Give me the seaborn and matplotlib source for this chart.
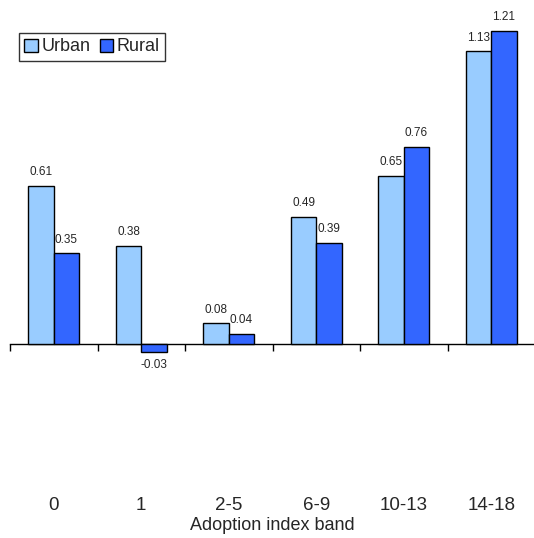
import matplotlib
matplotlib.use("Agg")
import matplotlib.pyplot as plt
import seaborn as sns
import pandas as pd
from matplotlib.patches import Patch

bands = ["0", "1", "2-5", "6-9", "10-13", "14-18"]
urban = [0.61, 0.38, 0.08, 0.49, 0.65, 1.13]
rural = [0.35, -0.03, 0.04, 0.39, 0.76, 1.21]
series = ["Urban", "Rural"]
colors = ["#99CCFF", "#3366FF"]

df = pd.DataFrame({
    "band": bands * 2,
    "value": urban + rural,
    "area": [series[0]] * len(bands) + [series[1]] * len(bands),
})

sns.set_style("white")
plt.rcParams["font.family"] = ["Liberation Sans", "DejaVu Sans"]

fig = plt.figure(figsize=(5.34, 5.38), dpi=100)
ax = fig.add_axes([10 / 534, 1 - 490 / 538, 525 / 534, 475 / 538])

sns.barplot(data=df, x="band", y="value", hue="area", order=bands,
            hue_order=series, palette=colors, edgecolor="black",
            linewidth=1.0, width=0.58, saturation=1, ax=ax, legend=False)

ymin, ymax = -0.564, 1.27
ax.set_ylim(ymin, ymax)
ax.set_xlim(-0.5, len(bands) - 0.5)

for cont in ax.containers:
    ax.bar_label(cont, fmt="%.2f", padding=5.5, fontsize=8.5)

for s in ax.spines.values():
    s.set_visible(False)
ax.set_yticks([])
ax.tick_params(axis="x", length=0, labelsize=13.5, pad=5)
ax.set_xlabel("Adoption index band", fontsize=13, labelpad=2)
ax.set_ylabel("")

# zero line with category boundary ticks
zero_frac = (0 - ymin) / (ymax - ymin)
sec = ax.secondary_xaxis(zero_frac)
sec.set_xticks([i - 0.5 for i in range(len(bands) + 1)])
sec.set_xticklabels([])
sec.tick_params(axis="x", direction="out", length=5, width=1, color="black")
sec.spines["bottom"].set_visible(True)
sec.spines["bottom"].set_color("black")
sec.spines["bottom"].set_linewidth(1)

handles = [Patch(facecolor=c, edgecolor="black", linewidth=1, label=s)
           for c, s in zip(colors, series)]
leg = ax.legend(handles=handles, loc="upper left", bbox_to_anchor=(9 / 525, 1 - 18 / 475),
                ncol=2, fontsize=13, frameon=True, fancybox=False,
                handlelength=0.75, handleheight=0.75, handletextpad=0.2,
                columnspacing=0.5, borderpad=0.3, borderaxespad=0)
leg.get_frame().set_edgecolor("black")
leg.get_frame().set_linewidth(1)

fig.savefig("out.png", dpi=100)
